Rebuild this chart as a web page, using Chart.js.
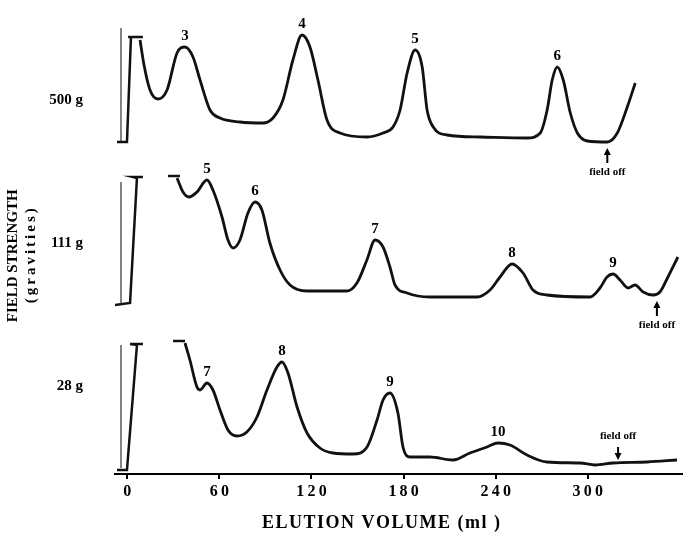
<!DOCTYPE html>
<html><head><meta charset="utf-8">
<script src="https://cdn.jsdelivr.net/npm/chart.js@4"></script>
<style>html,body{margin:0;padding:0;background:#fff}</style>
</head><body>
<canvas id="c" width="683" height="534"></canvas>
<script>
// ---- axis / labels ----
const tickVolumes = [0, 60, 120, 180, 240, 300];
const fieldLabels = ['500 g', '111 g', '28 g'];
const fieldLabelLevels = [374, 231, 88];
const traceOffsets = [332, 169, 4];
const xTitle = 'ELUTION VOLUME (ml )';
const yTitle = ['FIELD STRENGTH', '(gravities)'];

// ---- 500 g trace ----
const vol500 = [8.3,10.9,14.8,20.0,25.9,32.4,37.6,42.8,47.4,53.9,60.4,73.4,88.4,94.9,101.4,107.9,113.8,119.0,124.2,130.1,138.6,156.2,166.6,173.1,177.7,182.3,187.5,192.1,195.3,199.3,208.4,229.9,260.5,269.0,273.5,276.8,280.1,284.0,288.6,293.2,299.7,312.7,319.2,325.7,330.9];
const sig500 = [102,77,52,43,52,89,95,85,62,32,24,20,19,24,42,82,107,95,62,22,9,5,9,15,32,69,92,75,32,15,7,5,4,9,32,62,75,62,29,9,1,0,9,35,59];
const spikeVol500 = [-6.7,-0.2,2.4,0.5,10.2];
const spikeSig500 = [0,0,105,105,105];
const markVol500 = [-4.1,-4.1];
const markSig500 = [0,114];
const capVol500 = [];
const capSig500 = [];
const peakVol500 = [37.6,113.8,187.5,280.1];
const peakSig500 = [95,107,92,75];
const peakNum500 = ['3','4','5','6'];

// ---- 111 g trace ----
const vol111 = [32.4,36.3,40.2,45.4,51.9,55.8,61.7,65.6,68.9,73.4,78.6,83.2,87.7,92.9,99.5,106.0,117.1,143.1,149.6,156.1,161.4,166.6,171.1,174.4,182.2,197.2,227.8,236.3,242.8,250.6,257.8,264.3,273.4,301.4,307.9,312.5,316.4,321.0,326.2,330.7,336.0,342.5,347.0,352.2,358.7];
const sig111 = [127,113,108,113,125,115,88,65,57,65,92,103,95,62,35,20,14,14,22,45,65,58,38,20,12,8,8,15,28,41,32,15,10,8,17,28,31,25,17,20,13,10,13,28,48];
const spikeVol111 = [-8.0,1.8,6.3,3.7,10.2];
const spikeSig111 = [0,2,127,128,128];
const markVol111 = [-4.1,-4.1];
const markSig111 = [2,123];
const capVol111 = [26.5,34.3];
const capSig111 = [129,129];
const peakVol111 = [51.9,83.2,161.4,250.6,316.4];
const peakSig111 = [125,103,65,41,31];
const peakNum111 = ['5','6','7','8','9'];

// ---- 28 g trace ----
const vol28 = [37.6,40.8,45.4,47.4,51.9,55.8,60.4,65.6,71.5,77.9,84.5,91.0,97.5,100.8,104.7,110.6,117.1,125.5,134.0,147.0,156.2,162.7,166.6,171.1,176.3,179.6,184.1,197.2,212.1,223.2,234.3,241.5,249.3,260.4,273.4,294.9,304.7,316.4,338.6,358.1];
const sig28 = [127,110,83,80,87,80,60,40,34,38,53,80,103,108,97,63,37,22,17,16,23,50,70,77,57,23,13,13,10,17,23,27,25,15,8,7,5,7,8,10];
const spikeVol28 = [-6.7,-0.2,6.3,1.8,10.2];
const spikeSig28 = [0,0,125,126,126];
const markVol28 = [-4.1,-4.1];
const markSig28 = [2,125];
const capVol28 = [29.8,37.6];
const capSig28 = [129,129];
const peakVol28 = [51.9,100.8,171.1,241.5];
const peakSig28 = [87,108,77,27];
const peakNum28 = ['7','8','9','10'];

// ---- field off marks ----
const fieldOffVol = [312.7, 345.0, 319.7];
const fieldOffSig = [0, 10, 7];
const fieldOffText = 'field off';

const panels = [
  {vol:vol500,sig:sig500,sv:spikeVol500,ss:spikeSig500,mv:markVol500,ms:markSig500,cv:capVol500,cs:capSig500,pv:peakVol500,ps:peakSig500,pn:peakNum500,off:traceOffsets[0],arrowUp:true},
  {vol:vol111,sig:sig111,sv:spikeVol111,ss:spikeSig111,mv:markVol111,ms:markSig111,cv:capVol111,cs:capSig111,pv:peakVol111,ps:peakSig111,pn:peakNum111,off:traceOffsets[1],arrowUp:true},
  {vol:vol28,sig:sig28,sv:spikeVol28,ss:spikeSig28,mv:markVol28,ms:markSig28,cv:capVol28,cs:capSig28,pv:peakVol28,ps:peakSig28,pn:peakNum28,off:traceOffsets[2],arrowUp:false}
];

const pts = (v, s, off) => v.map((x, i) => ({x, y: s[i] + off}));
const datasets = [];
panels.forEach(p => {
  datasets.push({data: pts(p.vol, p.sig, p.off), borderColor:'#111', borderWidth:2.8, pointRadius:0, cubicInterpolationMode:'monotone', fill:false});
  datasets.push({data: pts(p.sv, p.ss, p.off), borderColor:'#111', borderWidth:2.5, pointRadius:0, tension:0, fill:false});
  datasets.push({data: pts(p.mv, p.ms, p.off), borderColor:'#333', borderWidth:1.2, pointRadius:0, tension:0, fill:false});
  if (p.cv.length) datasets.push({data: pts(p.cv, p.cs, p.off), borderColor:'#111', borderWidth:2.5, pointRadius:0, tension:0, fill:false});
});

const serif = '"Liberation Serif", "Times New Roman", serif';
const spaced = s => s.split('').join('\u2009');
const hair = s => s.split('').join('\u200a');
const pad = n => '\u00a0'.repeat(n);

const annot = {
  id: 'annot',
  afterDatasetsDraw(chart) {
    const {ctx, scales: {x, y}} = chart;
    ctx.save();
    ctx.fillStyle = '#000'; ctx.strokeStyle = '#000';
    panels.forEach((p, k) => {
      ctx.font = 'bold 15px ' + serif;
      ctx.textAlign = 'center'; ctx.textBaseline = 'alphabetic';
      p.pv.forEach((v, i) => {
        ctx.fillText(p.pn[i], x.getPixelForValue(v), y.getPixelForValue(p.off + p.ps[i]) - 7);
      });
      const fx = x.getPixelForValue(fieldOffVol[k]);
      const fy = y.getPixelForValue(p.off + fieldOffSig[k]);
      ctx.lineWidth = 2;
      ctx.font = 'bold 11px ' + serif;
      ctx.textBaseline = 'middle';
      let tip, tail, ty, dir;
      if (p.arrowUp) { tip = fy + 6; tail = fy + 21; ty = fy + 30; dir = 1; }
      else { tip = fy - 3; tail = fy - 16; ty = fy - 27; dir = -1; }
      ctx.beginPath(); ctx.moveTo(fx, tail); ctx.lineTo(fx, tip + dir * 5); ctx.stroke();
      ctx.beginPath(); ctx.moveTo(fx, tip); ctx.lineTo(fx - 3.5, tip + dir * 7); ctx.lineTo(fx + 3.5, tip + dir * 7); ctx.closePath(); ctx.fill();
      ctx.fillText(fieldOffText, fx, ty);
    });
    ctx.restore();
  }
};

new Chart(document.getElementById('c'), {
  type: 'line',
  data: {datasets},
  options: {
    responsive: false, animation: false, devicePixelRatio: 1,
    layout: {padding: 0},
    plugins: {legend: {display: false}, tooltip: {enabled: false}},
    scales: {
      x: {
        type: 'linear', min: -8, max: 362,
        afterFit(s) { s.height = 60; },
        afterBuildTicks(s) { s.ticks = tickVolumes.map(v => ({value: v})); },
        ticks: {
          autoSkip: false, maxRotation: 0, padding: 3, color: '#000',
          font: {family: serif, weight: 'bold', size: 16},
          callback: v => spaced(String(v))
        },
        grid: {drawOnChartArea: false, tickLength: 5, color: '#000', lineWidth: 2},
        border: {color: '#000', width: 2},
        title: {display: true, text: hair(xTitle) + pad(8), color: '#000', font: {family: serif, weight: 'bold', size: 18}, padding: {top: 4, bottom: 0}}
      },
      y: {
        type: 'linear', min: 0, max: 474,
        afterFit(s) { s.width = 115; s.paddingTop = 0; s.paddingBottom = 0; },
        afterBuildTicks(s) { s.ticks = fieldLabelLevels.map(v => ({value: v})); },
        ticks: {
          color: '#000', padding: 24, font: {family: serif, weight: 'bold', size: 15},
          callback: v => fieldLabels[fieldLabelLevels.indexOf(v)]
        },
        grid: {display: false}, border: {display: false},
        title: {display: true, text: [yTitle[0] + pad(10), spaced(yTitle[1]) + pad(10)], color: '#000', font: {family: serif, weight: 'bold', size: 15}, padding: {top: 4, bottom: 0}}
      }
    }
  },
  plugins: [annot]
});
</script>
</body></html>
